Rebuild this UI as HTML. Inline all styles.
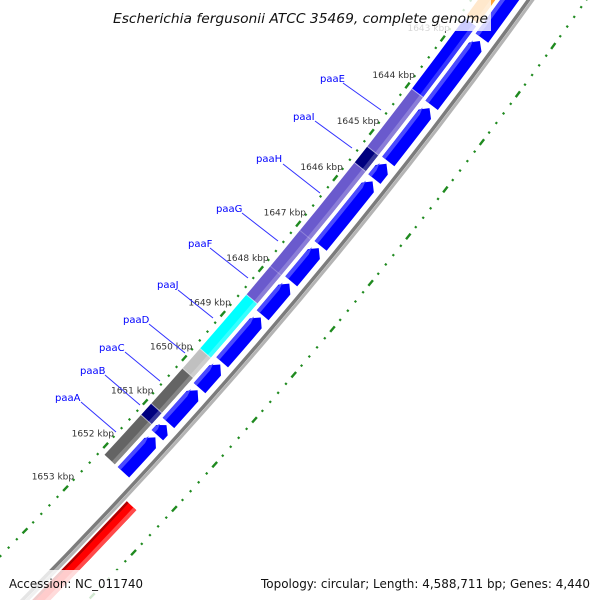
<!DOCTYPE html>
<html><head><meta charset="utf-8">
<style>
html,body{margin:0;padding:0;background:#fff;width:600px;height:600px;overflow:hidden;}
svg{display:block;font-family:"DejaVu Sans","Liberation Sans",sans-serif;}
</style></head>
<body>
<svg id="map" width="600" height="600" viewBox="0 0 600 600" xmlns="http://www.w3.org/2000/svg" overflow="hidden">
  <rect x="0" y="0" width="600" height="600" fill="#ffffff"/>
  <g id="rings"></g>
  <g id="features"></g>
  <g id="ticklabels"></g>
  <g font-size="10" fill="#0000ff" stroke-width="1">
    <text x="320" y="82">paaE</text>
    <line x1="343" y1="83" x2="381" y2="110" stroke="#3030ff"/>
    <text x="293" y="120">paaI</text>
    <line x1="315" y1="121" x2="352" y2="148" stroke="#3030ff"/>
    <text x="256" y="162">paaH</text>
    <line x1="283" y1="164" x2="320" y2="193" stroke="#3030ff"/>
    <text x="216" y="212">paaG</text>
    <line x1="242" y1="213" x2="278" y2="241" stroke="#3030ff"/>
    <text x="188" y="247">paaF</text>
    <line x1="210" y1="248" x2="248" y2="278" stroke="#3030ff"/>
    <text x="157" y="288">paaJ</text>
    <line x1="178" y1="290" x2="213" y2="318" stroke="#3030ff"/>
    <text x="123" y="323">paaD</text>
    <line x1="149" y1="324" x2="185" y2="353" stroke="#3030ff"/>
    <text x="99" y="351">paaC</text>
    <line x1="125" y1="352" x2="160" y2="381" stroke="#3030ff"/>
    <text x="80" y="374">paaB</text>
    <line x1="105" y1="375" x2="140" y2="405" stroke="#3030ff"/>
    <text x="55" y="401">paaA</text>
    <line x1="81" y1="402" x2="116" y2="432" stroke="#3030ff"/>
  </g>
  <rect x="110" y="0" width="381" height="31" fill="#ffffff" fill-opacity="0.8"/>
  <text x="300.5" y="23" font-size="13" font-style="italic" text-anchor="middle" fill="#111" textLength="375" lengthAdjust="spacingAndGlyphs">Escherichia fergusonii ATCC 35469, complete genome</text>
  <rect x="0" y="570" width="150" height="30" fill="#ffffff" fill-opacity="0.8"/>
  <text x="9" y="588" font-size="12" fill="#111" textLength="134" lengthAdjust="spacingAndGlyphs">Accession: NC_011740</text>
  <rect x="255" y="570" width="345" height="30" fill="#ffffff" fill-opacity="0.8"/>
  <text x="261" y="588" font-size="12" fill="#111" textLength="329" lengthAdjust="spacingAndGlyphs">Topology: circular; Length: 4,588,711 bp; Genes: 4,440</text>
</svg>
<script>
// ---- data (kbp) ----
const tickLabels = [1643,1644,1645,1646,1647,1648,1649,1650,1651,1652,1653];
const rowAStarts = [1640.5,1642.66,1644.08,1645.27,1645.65,1647.10,1647.88,1648.63,1649.68,1650.26,1651.05,1651.33];
const rowAEnds   = [1642.60,1644.02,1645.22,1645.60,1647.05,1647.83,1648.58,1649.63,1650.21,1651.00,1651.28,1652.13];
const rowBStarts = [1640.5,1642.50,1644.00,1645.24,1645.59,1648.49,1649.70,1650.15,1650.95,1651.21];
const rowBEnds   = [1642.44,1644.00,1645.24,1645.59,1648.49,1649.70,1650.15,1650.95,1651.21,1652.13];
const rowBColors = ["#ff8c00","#0000ff","#6a5acd","#00007f","#6a5acd","#00ffff","#c0c0c0","#646464","#00007f","#646464"];
const rowBDividers = [1647.07,1647.86];
const reverseStarts = [1652.45];
const reverseEnds = [1662];

// ---- geometry ----
const CX=-3544, CY=-2921.5, R0=5012, A0=37.27, DA=0.6778, K0=1644;
const NS="http://www.w3.org/2000/svg";
function ang(k){return (A0+(k-K0)*DA)*Math.PI/180;}
function pt(r,k){const a=ang(k);return [CX+r*Math.cos(a), CY+r*Math.sin(a)];}
function f(p){return p[0].toFixed(2)+","+p[1].toFixed(2);}
function arc(r,k,sw){return " A"+r+","+r+" 0 0 "+sw+" "+f(pt(r,k));}
function sector(r1,r2,k1,k2){
  return "M"+f(pt(r2,k1))+arc(r2,k2,1)+" L"+f(pt(r1,k2))+arc(r1,k1,0)+" Z";
}
function arrowLow(r1,r2,k1,k2){
  const h=Math.min(0.13,(k2-k1)*0.5), rm=(r1+r2)/2;
  return "M"+f(pt(rm,k1))+" L"+f(pt(r2,k1+h))+arc(r2,k2,1)+" L"+f(pt(r1,k2))+arc(r1,k1+h,0)+" Z";
}
function mk(tag,parent){const e=document.createElementNS(NS,tag);parent.appendChild(e);return e;}
function lighten(hex,t){const n=parseInt(hex.slice(1),16);let r=n>>16,g=(n>>8)&255,b=n&255;
  r=Math.round(r+(255-r)*t);g=Math.round(g+(255-g)*t);b=Math.round(b+(255-b)*t);return "rgb("+r+","+g+","+b+")";}

const rings=document.getElementById("rings");
const feats=document.getElementById("features");
const tl=document.getElementById("ticklabels");

// backbone
const bbShadow=mk("path",rings);


bbShadow.setAttribute("d","M"+f(pt(R0+3.5,1636))+arc(R0+3.5,1662,1));
bbShadow.setAttribute("fill","none");bbShadow.setAttribute("stroke","#b4b4b4");bbShadow.setAttribute("stroke-width","3");
const bb=mk("path",rings);


bb.setAttribute("d","M"+f(pt(R0,1636))+arc(R0,1662,1));
bb.setAttribute("fill","none");bb.setAttribute("stroke","#7c7c7c");bb.setAttribute("stroke-width","3.5");

// dotted tick rings
function tickRing(r,name){
  for(let i=0;i<=130;i++){
    const k=1636+i*0.2;
    const isMajor=(i%5===0);
    const half=isMajor?0.06:0.018;
    const p=mk("path",rings);
    
    
    p.setAttribute("d","M"+f(pt(r,k-half))+arc(r,k+half,1));
    p.setAttribute("fill","none");p.setAttribute("stroke","#1f8a1f");
    p.setAttribute("stroke-width",isMajor?"2.4":"2.2");
  }
}
tickRing(R0-46.5,'inner-ring');
tickRing(R0+47,'outer-ring');

// row A (forward arrows near backbone)
for(let i=0;i<rowAStarts.length;i++){
  const k1=rowAStarts[i],k2=rowAEnds[i];
  const p=mk("path",feats);
  
  
  p.setAttribute("d",arrowLow(4989,5004.5,k1,k2));
  p.setAttribute("fill","#0000ff");
  const hl=mk("path",feats);
  
  
  hl.setAttribute("d",arrowLow(4989,4993,k1+0.06,k2));
  hl.setAttribute("fill","#4a4aff");
}

// row B (COG-colored features)
for(let i=0;i<rowBStarts.length;i++){
  const k1=rowBStarts[i],k2=rowBEnds[i],c=rowBColors[i];
  const p=mk("path",feats);
  
  
  p.setAttribute("d",sector(4971,4985,k1,k2));
  p.setAttribute("fill",c);
  const hl=mk("path",feats);
  
  
  hl.setAttribute("d",sector(4981,4985,k1,k2));
  hl.setAttribute("fill",lighten(c,0.22));
}
for(let i=0;i<rowBDividers.length;i++){
  const k=rowBDividers[i];
  const l=mk("path",feats);
  
  
  l.setAttribute("d","M"+f(pt(4971,k))+" L"+f(pt(4985,k)));
  l.setAttribute("stroke","rgba(255,255,255,0.25)");l.setAttribute("stroke-width","1");
}
for(let i=1;i<rowBStarts.length;i++){
  if(Math.abs(rowBStarts[i]-rowBEnds[i-1])<0.01){
    const k=rowBStarts[i];
    const l=mk("path",feats);
    
    
    l.setAttribute("d","M"+f(pt(4971,k))+" L"+f(pt(4985,k)));
    l.setAttribute("stroke","rgba(255,255,255,0.55)");l.setAttribute("stroke-width","1");
  }
}

// reverse strand (red)
for(let i=0;i<reverseStarts.length;i++){
  const k1=reverseStarts[i],k2=reverseEnds[i];
  const p=mk("path",feats);
  
  
  p.setAttribute("d",sector(5019,5032,k1,k2));
  p.setAttribute("fill","#ff0000");
  const d=mk("path",feats);
  
  
  d.setAttribute("d",sector(5019,5021.5,k1,k2));
  d.setAttribute("fill","#b00000");
  const hl=mk("path",feats);
  
  
  hl.setAttribute("d",sector(5028,5032,k1,k2));
  hl.setAttribute("fill","#ff4a4a");
}

// tick labels
for(let i=0;i<tickLabels.length;i++){
  const k=tickLabels[i];
  const p=pt(4948,k);
  const t=mk("text",tl);
  
  
  t.setAttribute("x",p[0].toFixed(1));t.setAttribute("y",(p[1]+3).toFixed(1));
  t.setAttribute("font-size","9");t.setAttribute("fill","#333");
  t.setAttribute("text-anchor","middle");
  t.textContent=k+" kbp";
}
</script>
</body></html>
